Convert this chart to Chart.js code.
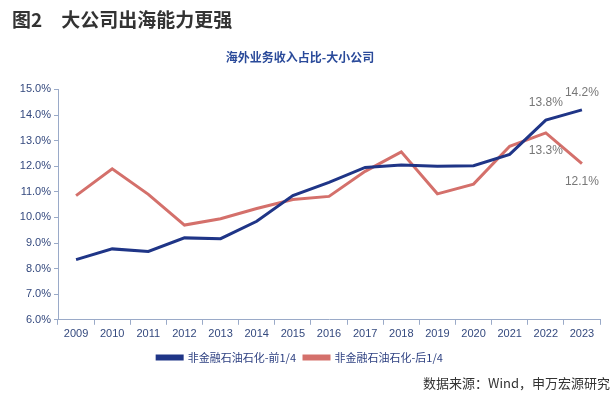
<!DOCTYPE html>
<html>
<head>
<meta charset="utf-8">
<script src="https://cdn.jsdelivr.net/npm/chart.js@4"></script>
<style>
  body { margin: 0; background: #fff; }
  #wrap { position: relative; width: 614px; height: 400px; }
  #head { position: absolute; left: 12px; top: 5px; font: bold 19px "Noto Sans CJK SC", sans-serif; color: #333; }
  #head span { margin-left: 19px; }
  #src { position: absolute; right: 4px; top: 373px; font: 13px "Noto Sans CJK SC", sans-serif; color: #333; }
  canvas { position: absolute; left: 0; top: 0; }
</style>
</head>
<body>
<div id="wrap">
  <canvas id="c" width="614" height="400"></canvas>
  <div id="head">图2<span>大公司出海能力更强</span></div>
  <div id="src">数据来源：Wind，申万宏源研究</div>
</div>
<script>
const years = ['2009', '2010', '2011', '2012', '2013', '2014', '2015', '2016', '2017', '2018', '2019', '2020', '2021', '2022', '2023'];
const topQuarter = [8.35, 8.77, 8.67, 9.2, 9.17, 9.85, 10.85, 11.37, 11.95, 12.05, 12.0, 12.02, 12.46, 13.8, 14.2];
const bottomQuarter = [10.85, 11.9, 10.9, 9.7, 9.95, 10.35, 10.7, 10.82, 11.8, 12.56, 10.92, 11.3, 12.78, 13.3, 12.1];
const seriesNames = ['非金融石油石化-前1/4', '非金融石油石化-后1/4'];

const navy = '#1f3587';
const red = '#d4706b';
const axisColor = '#9aaac8';
const tickColor = '#34497e';

// which points get a value label: [dataset, index, 'above'|'below']
const labelled = [[0, 13, 'above'], [0, 14, 'above'], [1, 13, 'below'], [1, 14, 'below']];

const valueLabels = {
    id: 'valueLabels',
    afterDatasetsDraw(chart) {
        const ctx = chart.ctx;
        ctx.save();
        ctx.font = '12px "Liberation Sans Narrow", "Liberation Sans", sans-serif';
        ctx.fillStyle = '#777';
        ctx.textAlign = 'center';
        ctx.textBaseline = 'middle';
        labelled.forEach(([ds, i, pos]) => {
            const v = chart.data.datasets[ds].data[i];
            const x = chart.scales.x.getPixelForValue(i);
            const y = chart.scales.y.getPixelForValue(v);
            ctx.fillText(v.toFixed(1) + '%', x, pos === 'above' ? y - 17 : y + 18);
        });
        ctx.restore();
    }
};

new Chart(document.getElementById('c'), {
    type: 'line',
    data: {
        labels: years,
        datasets: [
            { label: seriesNames[0], data: topQuarter, borderColor: navy, backgroundColor: navy, borderWidth: 3, pointRadius: 0, tension: 0 },
            { label: seriesNames[1], data: bottomQuarter, borderColor: red, backgroundColor: red, borderWidth: 3, pointRadius: 0, tension: 0 }
        ]
    },
    options: {
        responsive: false,
        animation: false,
        layout: { padding: { top: 50, right: 14, bottom: 27, left: 0 } },
        plugins: {
            title: {
                display: true,
                text: '海外业务收入占比-大小公司',
                color: '#2a4a9a',
                font: { family: '"Noto Sans CJK SC", sans-serif', size: 12, weight: 'bold' },
                padding: { top: 0, bottom: 25 }
            },
            legend: {
                position: 'bottom',
                labels: {
                    boxWidth: 25,
                    boxHeight: 3,
                    padding: 8,
                    color: '#2c3f80',
                    font: { family: '"Noto Sans CJK SC", sans-serif', size: 11 }
                }
            },
            tooltip: { enabled: false }
        },
        scales: {
            x: {
                offset: true,
                grid: { offset: true, drawOnChartArea: false, drawTicks: true, tickLength: 5, color: axisColor },
                border: { color: axisColor },
                ticks: { color: tickColor, padding: 3, maxRotation: 0, font: { family: '"Liberation Sans Narrow", "Liberation Sans", sans-serif', size: 11 } }
            },
            y: {
                min: 6,
                max: 15,
                afterFit(scale) { scale.width = 58; },
                grid: { drawOnChartArea: false, drawTicks: true, tickLength: 4, color: axisColor },
                border: { color: axisColor },
                ticks: {
                    stepSize: 1,
                    color: tickColor,
                    padding: 3,
                    font: { family: '"Liberation Sans Narrow", "Liberation Sans", sans-serif', size: 11 },
                    callback: v => v.toFixed(1) + '%'
                }
            }
        }
    },
    plugins: [valueLabels]
});
</script>
</body>
</html>
